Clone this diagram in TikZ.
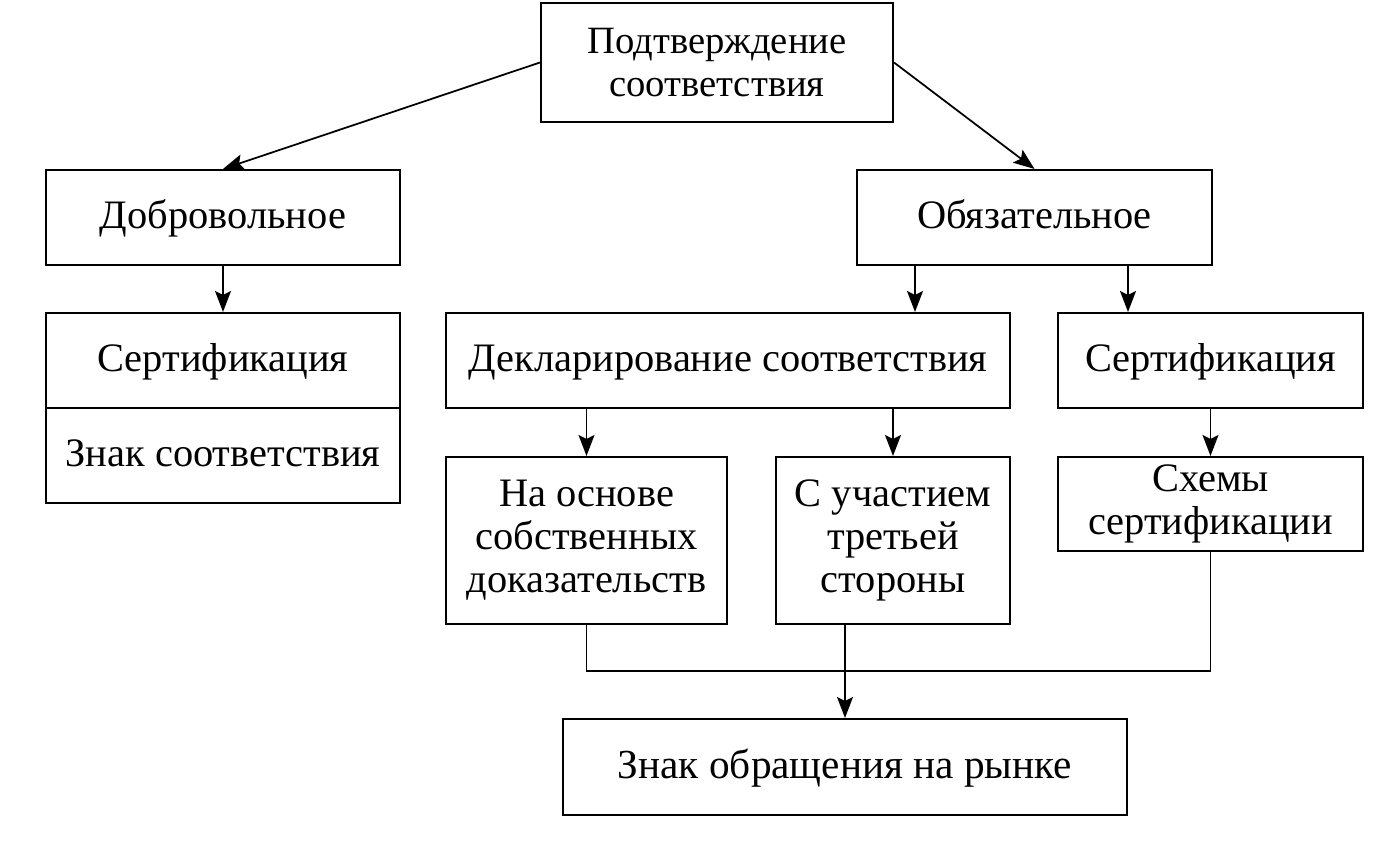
\documentclass[tikz,border=0pt]{standalone}
\usepackage{fontspec}
\setmainfont{Liberation Serif}
\usetikzlibrary{arrows.meta}

\begin{document}
\begin{tikzpicture}[x=0.02cm, y=-0.02cm,
  box/.style={draw, line width=1.2pt, align=center, inner sep=0pt,
    font=\fontsize{23}{24.5}\selectfont},
  row/.style={box, minimum height=1.9cm, text height=16pt, text depth=3pt},
  arr/.style={-{Stealth[length=0.42cm,width=0.32cm,inset=0.08cm]}, line width=1pt}]

  \useasboundingbox (0,0) rectangle (1377,864);

  % top
  \node[box, font=\fontsize{22}{24.5}\selectfont, minimum width=7.04cm,
  minimum height=2.38cm] (conf) at (717,62.5) {Подтверждение\\соответствия};

  % left column
  \node[row, minimum width=7.08cm] (vol) at (223,217.5) {Добровольное};
  \node[row, minimum width=7.08cm] (certL) at (223,360.5) {Сертификация};
  \node[row, minimum width=7.08cm] (signL) at (223,455.5) {Знак соответствия};

  % right part
  \node[row, minimum width=7.1cm] (mand) at (1034.5,217.5) {Обязательное};
  \node[row, minimum width=11.28cm] (decl) at (728,360.5) {Декларирование соответствия};
  \node[row, minimum width=6.1cm] (certR) at (1210.5,360.5) {Сертификация};
  \node[box, minimum width=5.62cm, minimum height=3.34cm] (own) at (586.5,540.5)
  {На основе\\собственных\\доказательств};
  \node[box, minimum width=4.68cm, minimum height=3.34cm] (third) at (893,540.5)
  {С участием\\третьей\\стороны};
  \node[box, minimum width=6.1cm, minimum height=1.88cm] (schemes) at (1210.5,504)
  {Схемы\\сертификации};
  \node[row, font=\fontsize{23.5}{24.5}\selectfont, minimum width=11.28cm,
  minimum height=1.92cm] (market) at (845,767) {Знак обращения на рынке};

  \draw[arr] (conf.west) -- (vol.north); % conf->vol
  \draw[arr] (conf.east) -- (mand.north); % conf->mand
  \draw[arr] (vol.south) -- (certL.north); % vol->certL

  \draw[arr] (mand.south -| 915,0) -- (decl.north -| 915,0); % mand->decl
  \draw[arr] (mand.south -| 1128,0) -- (certR.north -| 1128,0); % mand->certR
  \draw[arr] (decl.south -| own.north) -- (own.north); % decl->own
  \draw[arr] (decl.south -| third.north) -- (third.north); % decl->third
  \draw[arr] (certR.south -| schemes.north) -- (schemes.north); % certR->schemes

  \draw[line width=1pt] (own.south) -- ++(0,46) -| (schemes.south); % own, schemes
  \draw[arr] (third.south -| market.north) -- (market.north); % third->market

\end{tikzpicture}
\end{document}
